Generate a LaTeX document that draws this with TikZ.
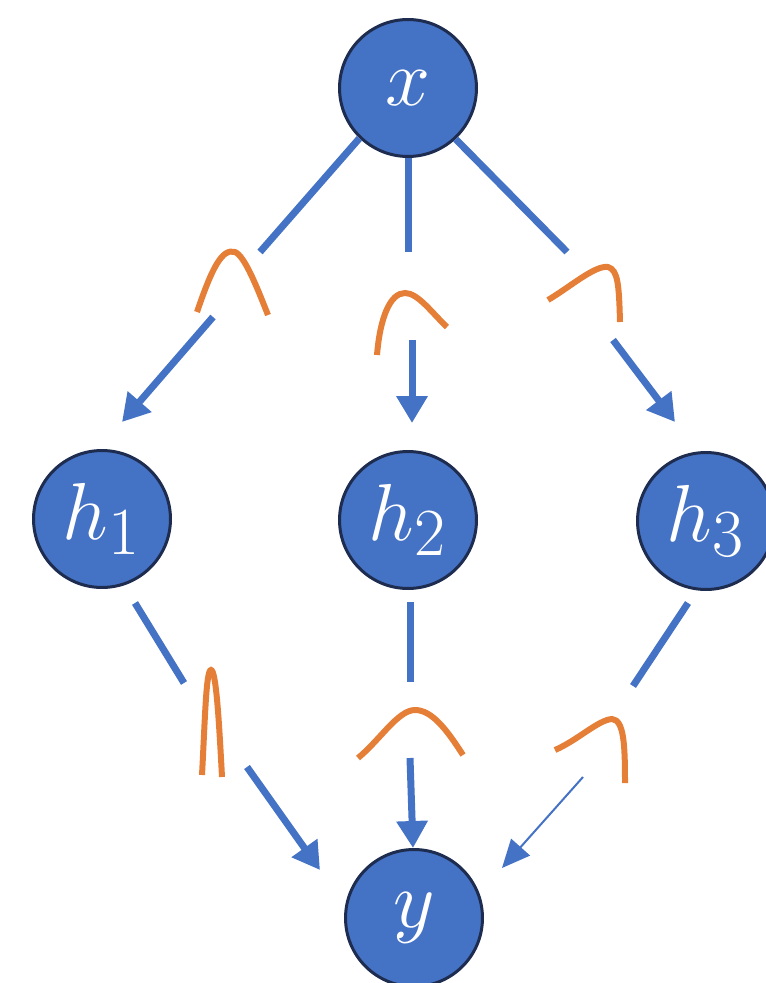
\documentclass[tikz,border=0pt]{standalone}
\usepackage{amsmath}
\usepackage{graphicx}
\usetikzlibrary{arrows.meta}
\definecolor{nodeblue}{HTML}{4472C4}
\definecolor{rimblue}{HTML}{1E2C4F}
\definecolor{bumporange}{HTML}{E57E36}
\newcommand{\varlabel}[1]{\scalebox{1.85}{$#1$}}

\begin{document}
\begin{tikzpicture}[x=0.02cm,y=-0.02cm,
  var/.style={circle,draw=rimblue,line width=0.06cm,fill=nodeblue,minimum size=2.74cm,
    inner sep=0pt,text=white,font=\Huge},
  seg/.style={draw=nodeblue,line width=0.14cm},
  tip/.style={seg,-{Triangle[length=0.54cm,width=0.6cm]}},
  thintip/.style={draw=nodeblue,line width=0.04cm,-{Triangle[length=0.56cm,width=0.5cm]}},
  bump/.style={draw=bumporange,line width=0.12cm}]
\useasboundingbox (0,0) rectangle (766,983);

\node[var] (x) at (408,88) {\varlabel{x}};
\node[var] (h1) at (102,519) {\varlabel{h_1}};
\node[var] (h2) at (408,520) {\varlabel{h_2}};
\node[var] (h3) at (706,521) {\varlabel{h_3}};
\node[var] (y) at (414,918) {\varlabel{y}};

% x to hidden layer
\coordinate (a1) at (260,252);
\coordinate (b1) at (213,317);
\coordinate (t1) at (122,422);
\coordinate (a2) at (408,252);
\coordinate (b2) at (412,340);
\coordinate (t2) at (412,423);
\coordinate (a3) at (567,252);
\coordinate (b3) at (613,340);
\coordinate (t3) at (675,422);

\draw[seg] (x.226) -- (a1);
\draw[tip] (b1) -- (t1);
\draw[seg] (x.south) -- (a2);
\draw[tip] (b2) -- (t2);
\draw[seg] (x.-47) -- (a3);
\draw[tip] (b3) -- (t3);

\draw[bump] (197,312) .. controls (212,268) and (222,248) .. (235,252)
  .. controls (245,256) and (258,290) .. (268,315);
\draw[bump] (377,355) .. controls (380,318) and (390,293) .. (405,293)
  .. controls (418,293) and (432,313) .. (447,327);
\draw[bump] (548,300) .. controls (570,287) and (595,265) .. (608,267)
  .. controls (618,270) and (619,285) .. (620,322);

% hidden layer to y
\coordinate (c1) at (135,603);
\coordinate (d1) at (184,683);
\coordinate (e1) at (247,767);
\coordinate (s1) at (320,870);
\coordinate (c2) at (410,602);
\coordinate (d2) at (410,682);
\coordinate (e2) at (410,758);
\coordinate (s2) at (413,848);
\coordinate (c3) at (688,603);
\coordinate (d3) at (633,686);
\coordinate (e3) at (583,777);
\coordinate (s3) at (502,868);

\draw[seg] (c1) -- (d1);
\draw[tip] (e1) -- (s1);
\draw[seg] (c2) -- (d2);
\draw[tip] (e2) -- (s2);
\draw[seg] (c3) -- (d3);
\draw[thintip] (e3) -- (s3);

\draw[bump] (202,775) .. controls (205,720) and (206,670) .. (211,670)
  .. controls (216,670) and (219,720) .. (222,777);
\draw[bump] (358,758) .. controls (380,740) and (398,710) .. (415,710)
  .. controls (432,710) and (447,730) .. (463,755);
\draw[bump] (555,750) .. controls (578,740) and (598,720) .. (612,719)
  .. controls (624,720) and (625,745) .. (625,783);
\end{tikzpicture}
\end{document}
